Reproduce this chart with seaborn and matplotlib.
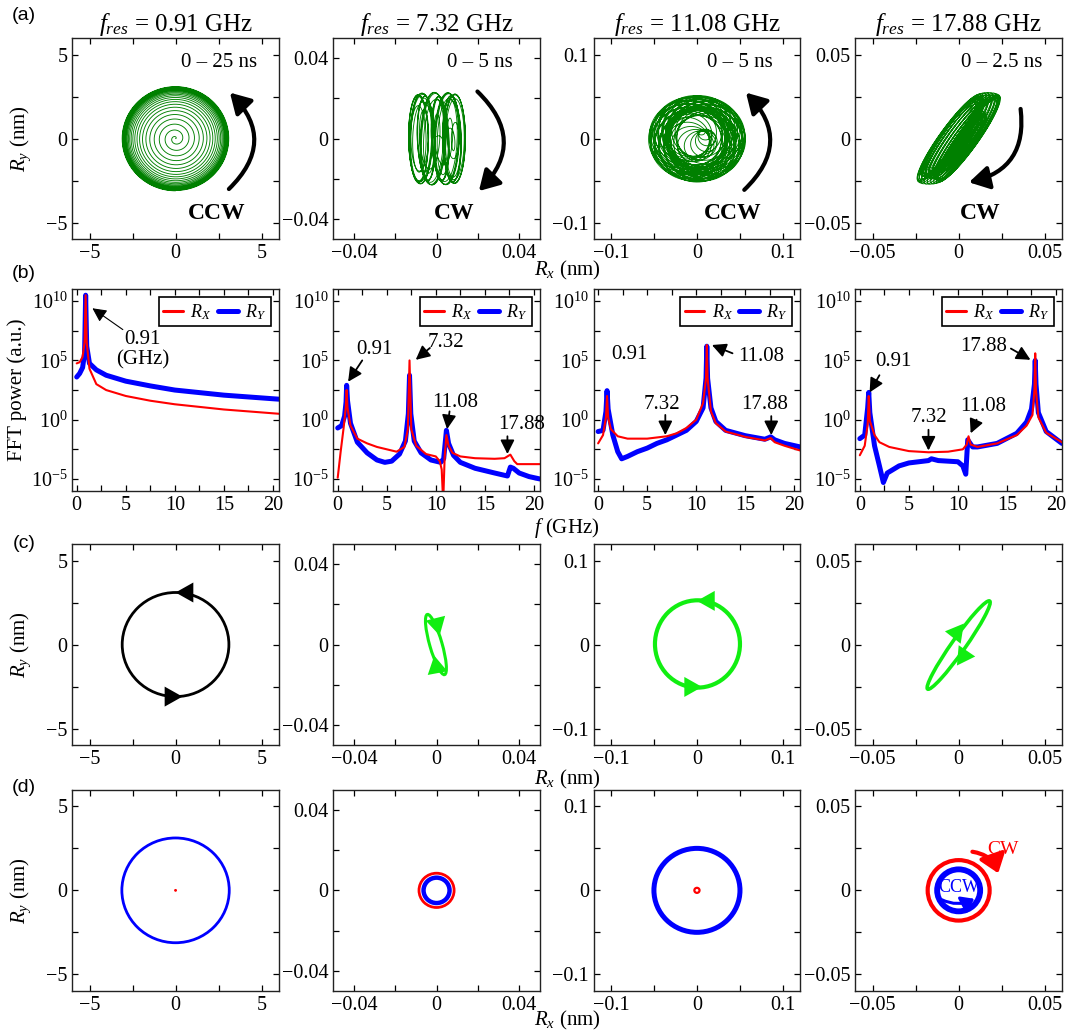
import numpy as np
import seaborn as sns
import matplotlib.pyplot as plt
from matplotlib.patches import Ellipse, FancyArrowPatch
from matplotlib.lines import Line2D
from matplotlib.ticker import FixedLocator, FuncFormatter, NullFormatter, LogFormatterMathtext

# ---- panel settings (shared by rows a, c, d) ----
f_res = [0.91, 7.32, 11.08, 17.88]
span_text = ["0 \u2013 25 ns", "0 \u2013 5 ns", "0 \u2013 5 ns", "0 \u2013 2.5 ns"]
sense_text = ["CCW", "CW", "CCW", "CW"]
sense_x = [0.70, 0.586, 0.673, 0.603]
lims = [6, 0.05, 0.12, 0.06]
major_ticks = [[-5, 0, 5], [-0.04, 0, 0.04], [-0.1, 0, 0.1], [-0.05, 0, 0.05]]
minor_ticks = [[-2.5, 2.5], [-0.02, 0.02], [-0.05, 0.05], [-0.025, 0.025]]

# ---- row (a): transient orbit parameters ----
traj_t_end = [25, 5, 5, 2.5]          # ns
traj_major = [3.25, 0.022, 0.046, 0.031]
traj_minor = [3.25, 0.005, 0.044, 0.0055]
traj_tilt = [0, 90, 0, 55]            # deg
traj_sense = [1, -1, 1, -1]
traj_tau = [8.0, 0.6, 1.0, 0.4]       # ns
traj_slow_x = [0.0, 0.009, 0.011, 0.006]
traj_slow_y = [0.0, 0.001, 0.008, 0.002]
arc_tail = [(3.1, -3.0), (0.0198, 0.0234), (0.055, -0.061), (0.036, 0.0177)]
arc_head = [(3.16, 2.74), (0.0205, -0.026), (0.057, 0.0548), (0.006, -0.026)]
arc_rad = [0.5, -0.5, 0.5, -0.45]

# ---- row (b): FFT spectra, (f in GHz, log10 power) ----
rx_1 = [(0, 4.75), (0.3, 4.85), (0.6, 5.3), (0.8, 6.5), (0.91, 10.5), (1.02, 6.5), (1.3, 4.3),
        (2, 3.0), (3, 2.5), (5, 2.0), (7.5, 1.6), (10, 1.3), (15, 0.86), (20.6, 0.5)]
ry_1 = [(0, 3.6), (0.3, 3.9), (0.6, 4.4), (0.8, 5.6), (0.91, 10.5), (1.02, 6.2), (1.3, 4.75),
        (2, 4.2), (3, 3.75), (5, 3.25), (7.5, 2.85), (10, 2.5), (15, 2.07), (20.6, 1.73)]
rx_2 = [(0, -4.9), (0.3, -2.7), (0.6, -0.7), (0.82, 1.0), (0.91, 2.5), (1.0, 1.0), (1.3, -0.5),
        (2, -1.6), (3, -2.0), (4, -2.3), (5, -2.5), (6, -2.7), (6.8, -2.3), (7.15, -0.8),
        (7.32, 5.0), (7.5, -0.8), (8, -2.2), (9, -2.9), (10, -3.1), (10.4, -3.5), (10.6, -4.2),
        (10.75, -7.0), (10.9, -3.2), (11.08, -1.3), (11.3, -2.2), (11.7, -2.8), (12.5, -3.1),
        (14, -3.25), (16, -3.3), (17, -3.25), (17.6, -2.95), (18.0, -3.5), (18.3, -3.75),
        (20.6, -3.75)]
ry_2 = [(0, -0.7), (0.4, -0.5), (0.7, 0.3), (0.85, 1.5), (0.91, 2.9), (1.0, 1.6), (1.3, -0.3),
        (2, -1.9), (3, -2.8), (4, -3.4), (4.8, -3.6), (5.5, -3.5), (6.3, -2.9), (6.9, -1.8),
        (7.2, 0.5), (7.32, 3.75), (7.45, 0.5), (7.8, -1.8), (8.5, -2.8), (9.5, -3.4),
        (10.5, -3.6), (10.8, -3.3), (11.0, -1.6), (11.08, -0.9), (11.3, -2.0), (11.8, -3.0),
        (12.5, -3.6), (14, -4.1), (16, -4.5), (17.3, -4.75), (17.6, -4.0), (17.9, -4.1),
        (18.5, -4.5), (19.5, -4.8), (20.6, -5.0)]
rx_3 = [(0, -2.0), (0.5, -1.3), (0.8, 0.2), (0.91, 2.0), (1.02, 0.2), (1.3, -0.8), (2, -1.4),
        (3, -1.6), (5, -1.6), (7, -1.4), (8, -1.15), (9, -0.7), (10, 0.0), (10.7, 1.4),
        (11.0, 3.5), (11.08, 6.3), (11.16, 3.5), (11.5, 0.7), (12, -0.3), (13, -1.0),
        (15, -1.45), (17, -1.75), (17.6, -1.55), (18, -1.9), (19, -2.2), (20.6, -2.6)]
ry_3 = [(0, -1.0), (0.5, -0.9), (0.8, 0.7), (0.91, 2.45), (1.02, 0.9), (1.5, -1.3), (2, -2.7),
        (2.4, -3.3), (3, -3.1), (4, -2.7), (5, -2.4), (6, -2.0), (7, -1.7), (8, -1.3),
        (9, -0.9), (10, -0.15), (10.7, 1.0), (11.0, 3.5), (11.08, 6.2), (11.16, 3.5),
        (11.5, 1.0), (12, -0.15), (13, -0.9), (15, -1.35), (17, -1.65), (17.6, -1.45),
        (18, -1.7), (19, -2.0), (20.6, -2.3)]
rx_4 = [(0, -3.0), (0.5, -2.2), (0.8, -0.4), (0.91, 2.0), (1.02, -0.1), (1.5, -1.3), (2, -1.9),
        (3, -2.3), (5, -2.65), (7, -2.75), (9, -2.7), (10.5, -2.5), (10.9, -2.1), (11.08, -1.4),
        (11.3, -2.1), (12, -2.3), (14, -2.0), (16, -1.3), (17, -0.5), (17.6, 0.4), (17.8, 2.5),
        (17.88, 5.6), (17.96, 2.5), (18.2, 0.2), (19, -1.1), (20.6, -1.9)]
ry_4 = [(0, -1.6), (0.5, -1.3), (0.8, 1.0), (0.91, 2.3), (1.02, 0.6), (1.5, -2.2), (2, -3.9),
        (2.4, -5.3), (2.8, -4.5), (4, -3.9), (5, -3.65), (7, -3.45), (7.3, -3.3), (8, -3.45),
        (10, -3.55), (10.5, -3.9), (10.8, -4.6), (11.0, -1.7), (11.5, -2.3), (12, -2.3),
        (14, -2.0), (16, -1.15), (17, -0.2), (17.5, 0.9), (17.8, 3.0), (17.88, 5.0),
        (17.96, 3.0), (18.2, 0.6), (19, -1.0), (20.6, -2.0)]
spectra_rx = [rx_1, rx_2, rx_3, rx_4]
spectra_ry = [ry_1, ry_2, ry_3, ry_4]

# peak labels: (text, text f, text logP, arrow tail, arrow head)
notes_1 = [("0.91\n(GHz)", 6.7, 5.9, (4.7, 7.6), (1.6, 9.4))]
notes_2 = [("0.91", 3.7, 5.9, (2.5, 5.0), (1.06, 3.2)),
           ("7.32", 11.0, 6.5, (9.4, 6.05), (7.95, 5.05)),
           ("11.08", 12.0, 1.45, (11.4, 0.7), (11.15, -0.8)),
           ("17.88", 18.7, -0.4, (17.3, -1.4), (17.3, -2.9))]
notes_3 = [("0.91", 3.2, 5.5, None, None),
           ("7.32", 6.5, 1.3, (6.85, 0.4), (6.85, -1.3)),
           ("11.08", 16.6, 5.3, (13.7, 5.6), (11.6, 6.3)),
           ("17.88", 17.0, 1.3, (17.65, 0.3), (17.65, -1.3))]
notes_4 = [("0.91", 3.4, 4.9, (2.0, 3.75), (1.0, 2.3)),
           ("7.32", 7.0, 0.15, (7.0, -0.85), (7.0, -2.6)),
           ("11.08", 12.6, 1.15, (11.9, 0.0), (11.3, -1.15)),
           ("17.88", 12.6, 6.2, (15.4, 6.0), (17.4, 5.05))]
notes = [notes_1, notes_2, notes_3, notes_4]

# ---- row (c): steady orbits at resonance ----
c_center = [(0, 0), (-0.0003, 0), (0.0006, 0.0007), (0, -0.0003)]
c_width = [6.2, 0.031, 0.0988, 0.0636]
c_height = [6.2, 0.006, 0.104, 0.008]
c_angle = [0, 105.6, 0, 55.5]
c_color = ["black", "#11ee11", "#11ee11", "#11ee11"]
c_lw = [2.0, 2.2, 3.0, 2.6]
c_arrows = [[((0.9, 3.1), (0.0, 3.1)), ((-0.5, -3.1), (0.4, -3.1))],
            [((0.0003, 0.0095), (0.0015, 0.0045)), ((0.0, -0.0115), (-0.0011, -0.0055))],
            [((0.012, 0.052), (0.0, 0.052)), ((-0.008, -0.0505), (0.006, -0.0505))],
            [((-0.002, 0.006), (0.003, 0.0125)), ((0.003, -0.0065), (-0.001, -0.0125))]]

# ---- row (d): decomposed rotating components (radius, colour, width) ----
d_rings = [[(3.12, "blue", 2.0)],
           [(0.0085, "red", 2.0), (0.0063, "blue", 3.2)],
           [(0.050, "blue", 3.6), (0.003, "red", 1.6)],
           [(0.018, "red", 3.0), (0.0125, "blue", 4.2)]]
d_dot = [(0.05, "red"), None, None, None]

# ---- style ----
sns.set_theme(style="ticks")
plt.rcParams.update({
    "font.family": ["Liberation Serif", "DejaVu Serif"],
    "mathtext.fontset": "custom",
    "mathtext.rm": "Liberation Serif",
    "mathtext.it": "Liberation Serif:italic",
    "mathtext.bf": "Liberation Serif:bold",
    "text.color": "black", "axes.labelcolor": "black",
    "xtick.color": "black", "ytick.color": "black",
    "axes.edgecolor": "#222222", "axes.linewidth": 1.0,
    "xtick.direction": "in", "ytick.direction": "in",
    "xtick.top": True, "ytick.right": True,
    "xtick.major.size": 4, "ytick.major.size": 4,
    "xtick.minor.size": 4, "ytick.minor.size": 4,
    "xtick.major.width": 0.9, "ytick.major.width": 0.9,
    "xtick.minor.width": 0.9, "ytick.minor.width": 0.9,
    "xtick.labelsize": 14.5, "ytick.labelsize": 14.5,
    "axes.labelsize": 15,
})

W, H = 1069, 1034
fig = plt.figure(figsize=(W / 100, H / 100), dpi=100)
col_left = [72.3, 333.3, 593.7, 855.4]
row_top = [37.9, 289.3, 543.8, 789.6]
ax_w, ax_h = 206.5, 201.5


def make_ax(r, c):
    return fig.add_axes([col_left[c] / W, 1 - (row_top[r] + ax_h) / H, ax_w / W, ax_h / H])


def num_fmt(v, pos):
    if abs(v) < 1e-12:
        return "0"
    return ("%g" % v).replace("-", "\u2212")


def square_axes(ax, c):
    ax.set_xlim(-lims[c], lims[c])
    ax.set_ylim(-lims[c], lims[c])
    for a in (ax.xaxis, ax.yaxis):
        a.set_major_locator(FixedLocator(major_ticks[c]))
        a.set_minor_locator(FixedLocator(minor_ticks[c]))
        a.set_major_formatter(FuncFormatter(num_fmt))
        a.set_minor_formatter(NullFormatter())
    ax.tick_params(which="both", top=True, right=True)
    ax.tick_params(axis="x", pad=3.5)


def trajectory(i):
    t = np.linspace(0, traj_t_end[i], 14000)
    env = 1 - np.exp(-t / traj_tau[i])
    ph = 2 * np.pi * f_res[i] * t
    u = traj_major[i] * env * np.cos(ph)
    v = traj_sense[i] * traj_minor[i] * env * np.sin(ph)
    th = np.deg2rad(traj_tilt[i])
    x = u * np.cos(th) - v * np.sin(th)
    y = u * np.sin(th) + v * np.cos(th)
    ps = 2 * np.pi * 0.91 * t
    x = x + traj_slow_x[i] * np.sin(ps)
    y = y + traj_slow_y[i] * np.cos(ps)
    return x, y


def ylabel_left(ax, txt, xpos):
    ax.set_ylabel(txt)
    ax.yaxis.set_label_coords(xpos, 0.5)


# ---- row (a) ----
for c in range(4):
    ax = make_ax(0, c)
    x, y = trajectory(c)
    sns.lineplot(x=x, y=y, sort=False, estimator=None, color="green", lw=0.65, ax=ax)
    square_axes(ax, c)
    ax.set_title(r"$f_{res}$ = %.2f GHz" % f_res[c], fontsize=18, pad=5)
    ax.text(0.71, 0.88, span_text[c], transform=ax.transAxes, ha="center", va="center", fontsize=15)
    ax.text(sense_x[c], 0.128, sense_text[c], transform=ax.transAxes, ha="center", va="center",
            fontsize=17, fontweight="bold")
    ax.add_patch(FancyArrowPatch(arc_tail[c], arc_head[c], connectionstyle="arc3,rad=%g" % arc_rad[c],
                                 arrowstyle="-|>,head_length=0.6,head_width=0.35", mutation_scale=20,
                                 lw=3, color="black", shrinkA=0, shrinkB=0))
    if c == 0:
        ylabel_left(ax, r"$R_y$ (nm)", -0.19)
    else:
        ax.set_ylabel("")

# ---- row (b) ----
for c in range(4):
    ax = make_ax(1, c)
    fx = [p[0] for p in spectra_rx[c]]
    px = [10 ** p[1] for p in spectra_rx[c]]
    fy = [p[0] for p in spectra_ry[c]]
    py = [10 ** p[1] for p in spectra_ry[c]]
    sns.lineplot(x=fy, y=py, sort=False, estimator=None, color="blue", lw=3.6, ax=ax)
    sns.lineplot(x=fx, y=px, sort=False, estimator=None, color="red", lw=1.5, ax=ax)
    ax.set_yscale("log")
    ax.set_xlim(-0.45, 20.6)
    ax.set_ylim(1e-6, 1e11)
    ax.xaxis.set_major_locator(FixedLocator([0, 5, 10, 15, 20]))
    ax.xaxis.set_minor_locator(FixedLocator([2.5, 7.5, 12.5, 17.5]))
    ax.yaxis.set_major_locator(FixedLocator([1e-5, 1e0, 1e5, 1e10]))
    ax.yaxis.set_minor_locator(FixedLocator([10 ** -2.5, 10 ** 2.5, 10 ** 7.5]))
    ax.yaxis.set_major_formatter(LogFormatterMathtext())
    ax.yaxis.set_minor_formatter(NullFormatter())
    ax.tick_params(which="both", top=True, right=True)
    ax.tick_params(axis="x", pad=3.5)
    ax.set_xlabel("")
    if c == 0:
        ylabel_left(ax, "FFT power (a.u.)", -0.22)
    else:
        ax.set_ylabel("")
    handles = [Line2D([], [], color="red", lw=2.2), Line2D([], [], color="blue", lw=3.6)]
    leg = ax.legend(handles, [r"$R_X$", r"$R_Y$"], loc="upper right", ncol=2, fontsize=13,
                    frameon=True, fancybox=False, edgecolor="black", framealpha=1,
                    handlelength=1.1, handletextpad=0.4, columnspacing=0.35,
                    borderpad=0.25, borderaxespad=0.45)
    leg.get_frame().set_linewidth(1.2)
    for txt, tx, ty, tail, head in notes[c]:
        ax.text(tx, 10 ** ty, txt, ha="center", va="center", fontsize=15, linespacing=1.1)
        if tail is not None:
            thin = c == 0
            ax.annotate("", xy=(head[0], 10 ** head[1]), xytext=(tail[0], 10 ** tail[1]),
                        arrowprops=dict(arrowstyle="-|>,head_length=0.6,head_width=0.3",
                                        mutation_scale=14, color="black",
                                        lw=0.8 if thin else 1.3, shrinkA=0, shrinkB=0))

# ---- row (c) ----
for c in range(4):
    ax = make_ax(2, c)
    ax.add_patch(Ellipse(c_center[c], c_width[c], c_height[c], angle=c_angle[c], fill=False,
                         ec=c_color[c], lw=c_lw[c]))
    for tail, tip in c_arrows[c]:
        ax.annotate("", xy=tip, xytext=tail,
                    arrowprops=dict(arrowstyle="-|>,head_length=0.8,head_width=0.45",
                                    mutation_scale=16, color=c_color[c], lw=0, shrinkA=0, shrinkB=0))
    square_axes(ax, c)
    if c == 0:
        ylabel_left(ax, r"$R_y$ (nm)", -0.19)

# ---- row (d) ----
for c in range(4):
    ax = make_ax(3, c)
    for rad, col, lw in d_rings[c]:
        ax.add_patch(Ellipse((0, 0), 2 * rad, 2 * rad, fill=False, ec=col, lw=lw))
    if d_dot[c] is not None:
        ax.add_patch(Ellipse((0, 0), 2 * d_dot[c][0], 2 * d_dot[c][0], fc=d_dot[c][1], ec=d_dot[c][1], lw=0.8))
    square_axes(ax, c)
    if c == 0:
        ylabel_left(ax, r"$R_y$ (nm)", -0.19)
    if c == 3:
        ax.add_patch(FancyArrowPatch((0.008, 0.023), (0.023, 0.0102), connectionstyle="arc3,rad=-0.3",
                                     arrowstyle="-|>,head_length=0.6,head_width=0.45", mutation_scale=18,
                                     lw=3, color="red", shrinkA=0, shrinkB=0))
        ax.add_patch(FancyArrowPatch((-0.010, -0.0055), (0.009, -0.0050), connectionstyle="arc3,rad=0.25",
                                     arrowstyle="-|>,head_length=0.6,head_width=0.45", mutation_scale=12,
                                     lw=2.2, color="blue", shrinkA=0, shrinkB=0))
        ax.text(0.026, 0.0245, "CW", color="red", fontsize=14, ha="center", va="center")
        ax.text(0.0, 0.0015, "CCW", color="blue", fontsize=13, ha="center", va="center")

# ---- shared labels ----
for ylab, txt in [(270, r"$R_x$ (nm)"), (528, r"$f$ (GHz)"), (779, r"$R_x$ (nm)"), (1020, r"$R_x$ (nm)")]:
    fig.text(567 / W, 1 - ylab / H, txt, ha="center", va="center", fontsize=15)
for ylab, txt in [(16, "(a)"), (274, "(b)"), (544, "(c)"), (788, "(d)")]:
    fig.text(24 / W, 1 - ylab / H, txt, ha="center", va="center", fontsize=14,
             family=["Liberation Sans", "DejaVu Sans"])

fig.savefig("out.png", dpi=100)
